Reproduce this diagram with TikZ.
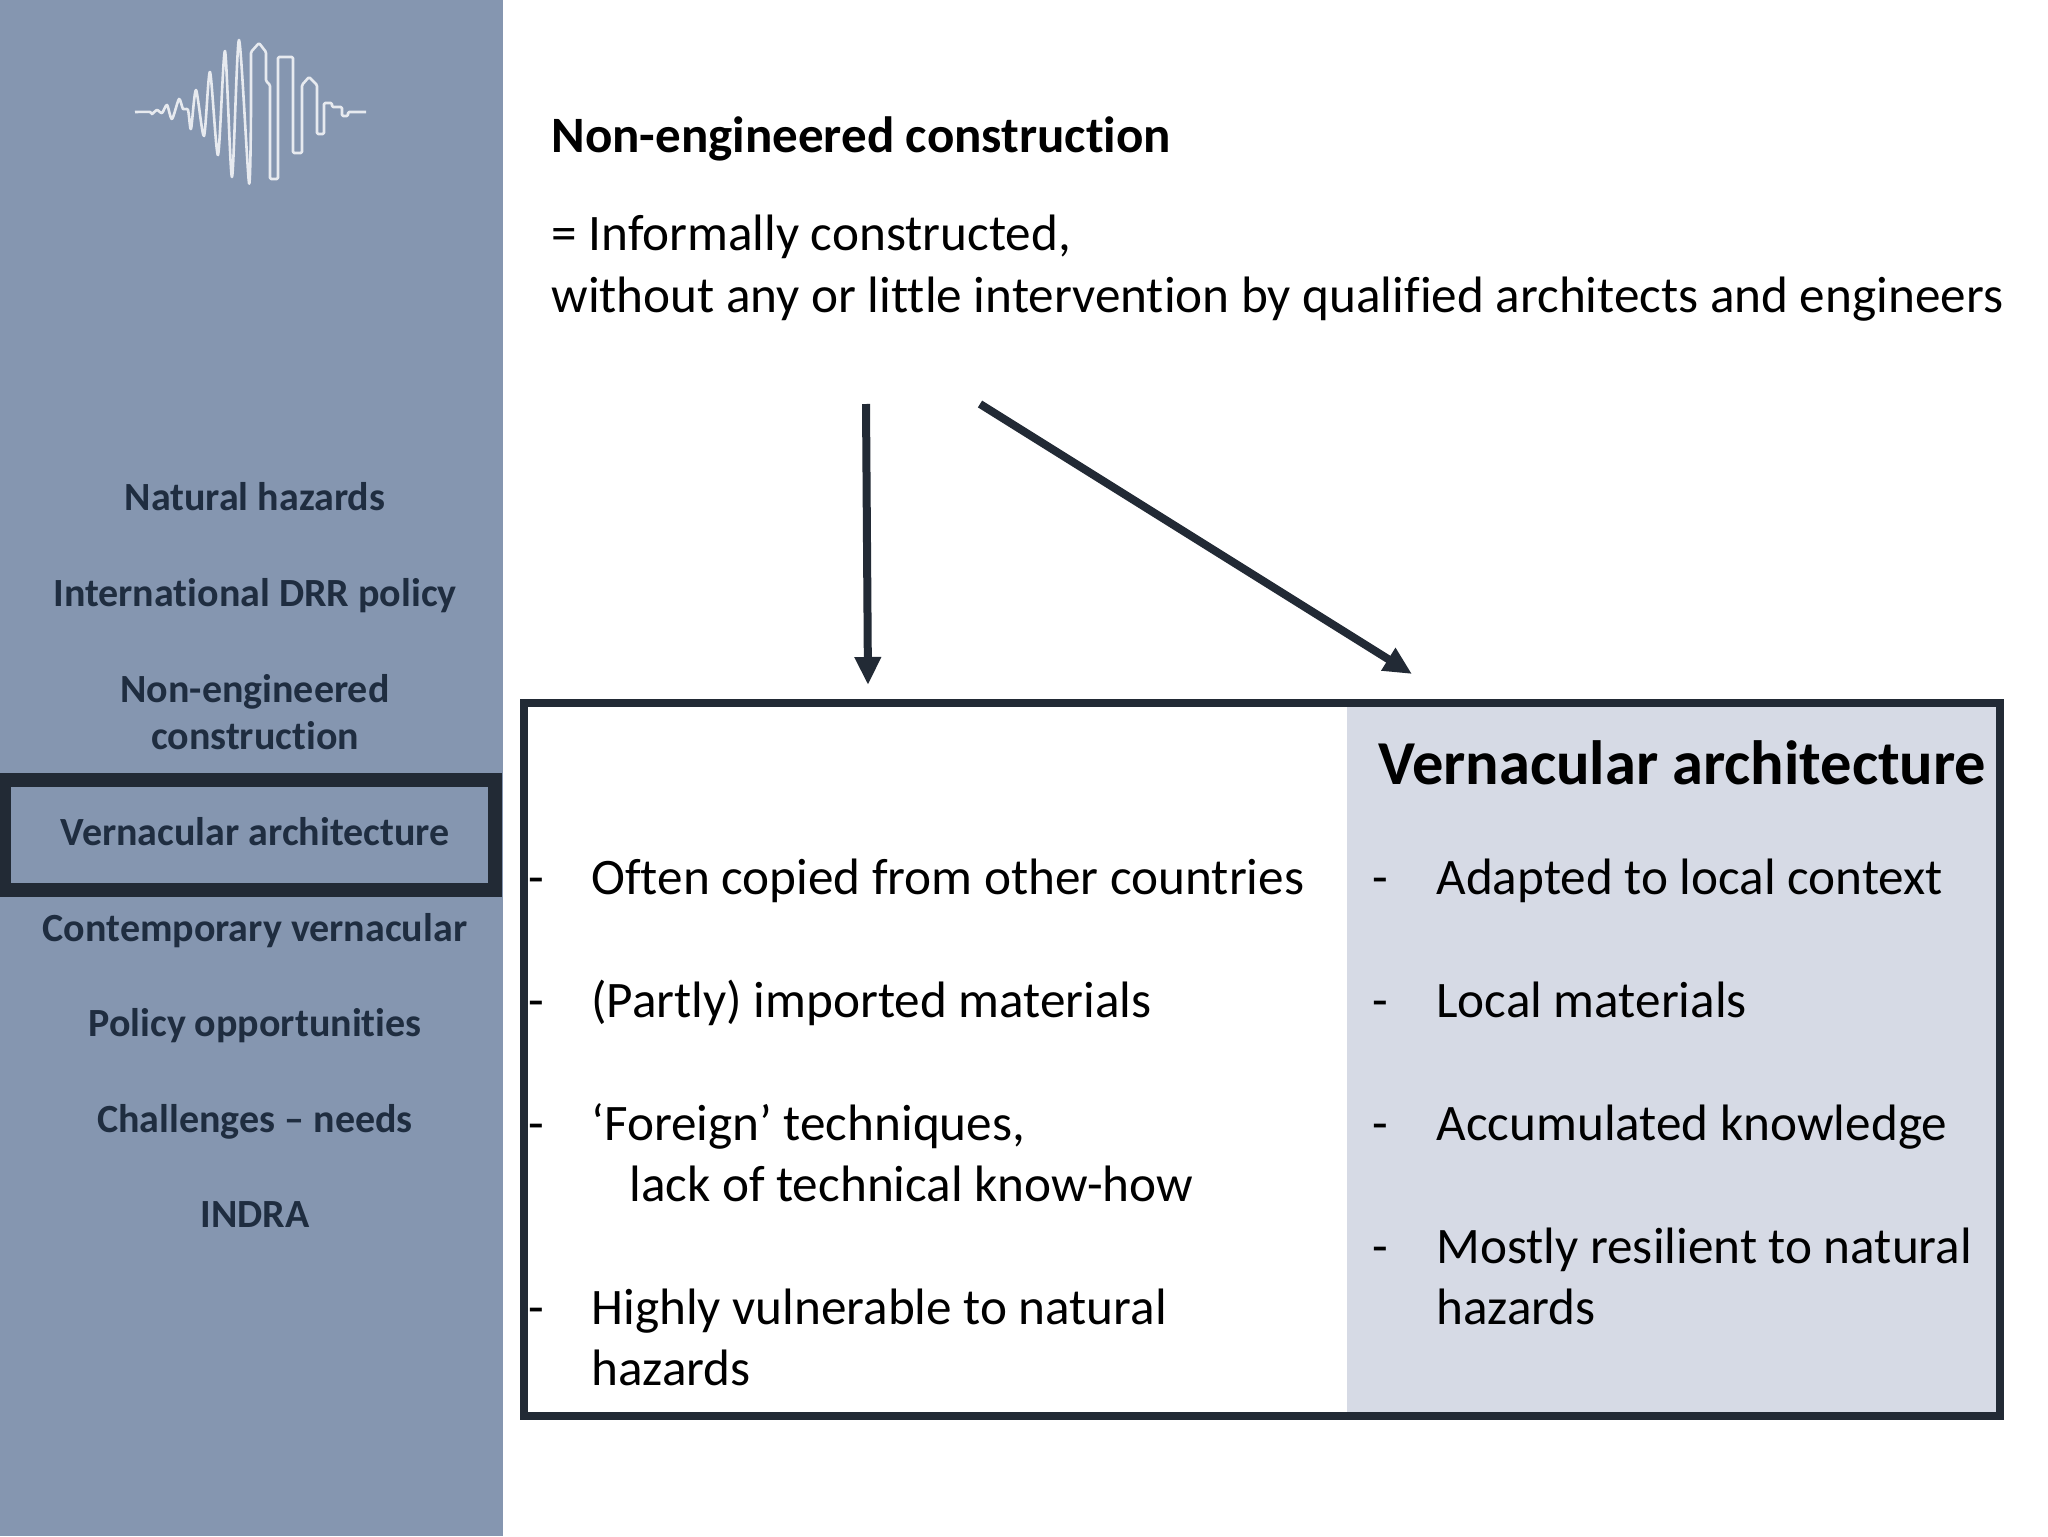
\documentclass[tikz,border=0pt]{standalone}
\usepackage{fontspec}
\setmainfont[Ligatures=NoCommon]{Carlito}
\usetikzlibrary{arrows.meta}
\definecolor{side}{HTML}{8596B0}
\definecolor{dark}{HTML}{222A35}
\definecolor{navtext}{HTML}{1F2D40}
\definecolor{pale}{HTML}{D6DAE5}
\tikzset{
  x=0.5pt,y=-0.5pt,
  nav/.style={anchor=base,inner sep=0pt,text=navtext,font=\fontsize{20}{24}\selectfont\bfseries},
  body/.style={anchor=base west,inner sep=0pt,text=black,font=\fontsize{25.6}{30}\selectfont},
  head/.style={anchor=base west,inner sep=0pt,text=black,font=\fontsize{25.5}{30}\selectfont\bfseries},
  bigarrow/.style={draw=dark,line width=4pt,-{Triangle[length=14pt,width=12.5pt]}},
  logo/.style={draw=white!80!side,line width=1.3pt,line join=round}
}
\begin{document}
\begin{tikzpicture}
\useasboundingbox (0,0) rectangle (2048,1536);
\fill[white] (0,0) rectangle (2048,1536);
\fill[side] (0,0) rectangle (503,1536);
% logo
\draw[logo] plot[smooth,tension=0.45] coordinates {
(135,112)(150,112)(152,114)(157,110)(162,113)(167,105)(172,119)(179,99)(183,109)(188,110)(191,129)(196,90)(204,136)(210,72)(218,155)(225,51)(232,177)(239,40)(249,183)(251,110)};
\draw[logo,rounded corners=0.6pt] plot coordinates {
(251,110)(251,52)(259,43)(266,52)(266,81)(270,85)(270,179)(278,179)(278,57)(293,57)(293,153)(302,153)(302,85)(309,77)(317,85)(317,134)(324,134)(324,103)(332,103)(332,107)(342,107)(342,116)(348,116)(348,112)(366,112)};
% sidebar
\draw[dark,line width=7pt] (4,780) rectangle (495,890);
\node[nav] (n1) at (255,510) {Natural hazards};
\node[nav] (n2) at (255,606) {International DRR policy};
\node[nav] (n3) at (255,702) {Non-engineered};
\node[nav] (n3b) at (255,749) {construction};
\node[nav] (n4) at (255,845.5) {Vernacular architecture};
\node[nav] (n5) at (255,941) {Contemporary vernacular};
\node[nav] (n6) at (255,1036.5) {Policy opportunities};
\node[nav] (n7) at (255,1132) {Challenges – needs};
\node[nav] (n8) at (255,1227) {INDRA};
% header
\node[head] (h) at (551,152) {Non-engineered construction};
\node[body] (d1) at (551,250.5) {= Informally constructed,};
\node[body] (d2) at (551,312) {without any or little intervention by qualified architects and engineers};
% box
\fill[pale] (1347,703) rectangle (2000,1416);
\draw[dark,line width=4pt] (524,703) rectangle (2000,1416);
% arrows
\coordinate (a1s) at (866,404);
\coordinate (a1e) at (868,685);
\coordinate (a2s) at (980,404);
\coordinate (a2e) at (1412,674);
\draw[bigarrow] (a1s) -- (a1e);
\draw[bigarrow] (a2s) -- (a2e);
% left
\node[body] (ld1) at (528,894) {-};
\node[body] (l1) at (591,894) {Often copied from other countries};
\node[body] (ld2) at (528,1017) {-};
\node[body] (l2) at (591,1017) {(Partly) imported materials};
\node[body] (ld3) at (528,1140) {-};
\node[body] (l3) at (591,1140) {‘Foreign’ techniques,};
\node[body] (l3b) at (629,1201) {lack of technical know-how};
\node[body] (ld4) at (528,1324) {-};
\node[body] (l4) at (591,1324) {Highly vulnerable to natural};
\node[body] (l4b) at (591,1385) {hazards};
% right
\node[anchor=base west,inner sep=0pt,font=\fontsize{31.25}{37}\selectfont\bfseries] (t) at (1378,784.5) {Vernacular architecture};
\node[body] (rd1) at (1372,894) {-};
\node[body] (r1) at (1436,894) {Adapted to local context};
\node[body] (rd2) at (1372,1017) {-};
\node[body] (r2) at (1436,1017) {Local materials};
\node[body] (rd3) at (1372,1140) {-};
\node[body] (r3) at (1436,1140) {Accumulated knowledge};
\node[body] (rd4) at (1372,1263) {-};
\node[body] (r4) at (1436,1263) {Mostly resilient to natural};
\node[body] (r4b) at (1436,1324) {hazards};
\end{tikzpicture}
\end{document}
